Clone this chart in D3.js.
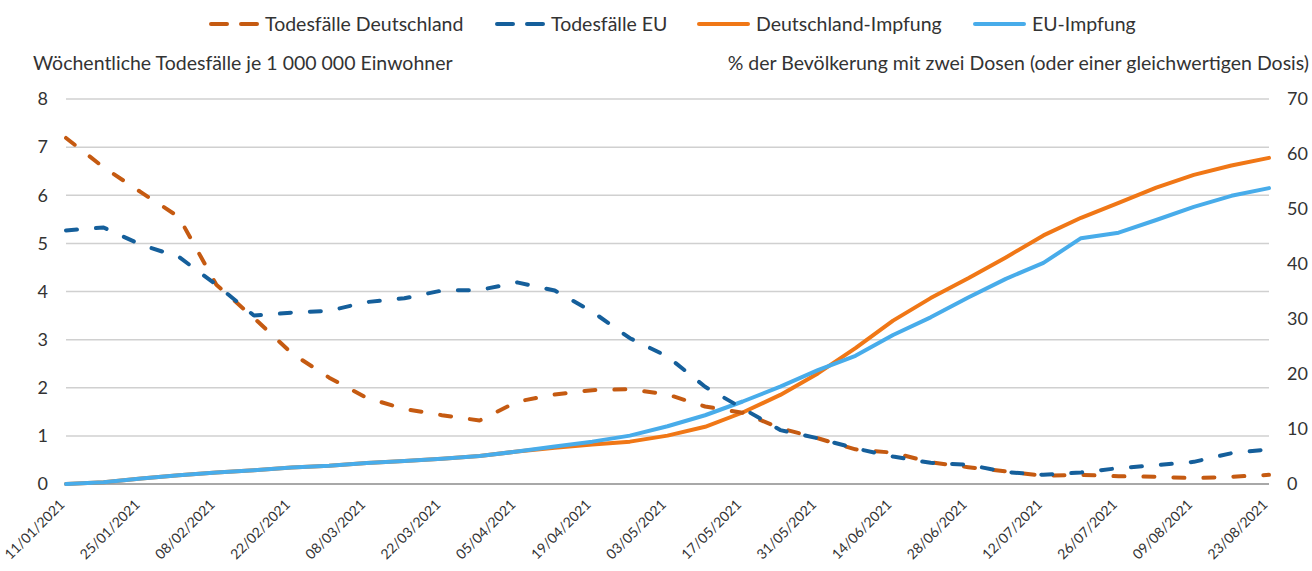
<!DOCTYPE html>
<meta charset="utf-8">
<script src="https://d3js.org/d3.v7.min.js"></script>
<style>
  body { margin: 0; background: #fff; }
  text { font-family: Lato, "Open Sans", sans-serif; fill: #333; }
</style>
<body>
<div id="my_dataviz"></div>
<script>
// weekly values, first week 11/01/2021
const startDate = "2021-01-11";
const weeks = 33;

const deathsDE = [7.19, 6.58, 6.06, 5.55, 4.14, 3.45, 2.72, 2.21, 1.79, 1.56, 1.43,
  1.32, 1.71, 1.86, 1.95, 1.97, 1.86, 1.61, 1.48, 1.16, 0.95, 0.72,
  0.65, 0.45, 0.35, 0.26, 0.17, 0.19, 0.16, 0.15, 0.12, 0.15, 0.19];
const deathsEU = [5.27, 5.33, 4.97, 4.72, 4.14, 3.5, 3.56, 3.6, 3.78, 3.86, 4.02,
  4.03, 4.19, 4.02, 3.58, 3.03, 2.65, 2.02, 1.57, 1.12, 0.95, 0.74,
  0.57, 0.44, 0.40, 0.25, 0.19, 0.24, 0.33, 0.39, 0.46, 0.64, 0.72];
const vaxDE = [0, 0.3, 1.0, 1.6, 2.1, 2.5, 3.0, 3.3, 3.8, 4.2, 4.6,
  5.1, 5.9, 6.6, 7.2, 7.7, 8.8, 10.4, 13.0, 16.2, 20.1, 24.7,
  29.7, 33.8, 37.4, 41.2, 45.2, 48.4, 51.1, 53.9, 56.2, 57.9, 59.3];
const vaxEU = [0, 0.3, 1.0, 1.6, 2.1, 2.5, 3.0, 3.3, 3.8, 4.2, 4.6,
  5.1, 5.9, 6.8, 7.7, 8.8, 10.5, 12.5, 15.0, 17.7, 20.7, 23.3,
  27.1, 30.3, 33.9, 37.3, 40.2, 44.7, 45.7, 48.0, 50.4, 52.4, 53.8];

const leftTicks = [0, 1, 2, 3, 4, 5, 6, 7, 8];
const rightTicks = [0, 10, 20, 30, 40, 50, 60, 70];

const leftTitle = "Wöchentliche Todesfälle je 1 000 000 Einwohner";
const rightTitle = "% der Bevölkerung mit zwei Dosen (oder einer gleichwertigen Dosis)";

const series = [
  {name: "Todesfälle Deutschland", values: deathsDE, axis: "left", color: "#C55A11", dashed: true},
  {name: "Todesfälle EU", values: deathsEU, axis: "left", color: "#155F9B", dashed: true},
  {name: "Deutschland-Impfung", values: vaxDE, axis: "right", color: "#F07716", dashed: false},
  {name: "EU-Impfung", values: vaxEU, axis: "right", color: "#48ACEA", dashed: false}
];

const width = 1312, height = 571;
const x0 = 66, x1 = 1269, yTop = 99, yBottom = 484;

const parse = d3.timeParse("%Y-%m-%d");
const dates = d3.range(weeks).map(i => d3.timeDay.offset(parse(startDate), 7 * i));

const svg = d3.select("#my_dataviz")
  .append("svg")
    .attr("width", width)
    .attr("height", height);

const x = d3.scaleTime()
  .domain([dates[0], dates[dates.length - 1]])
  .range([x0, x1]);
const yL = d3.scaleLinear().domain([0, 8]).range([yBottom, yTop]);
const yR = d3.scaleLinear().domain([0, 70]).range([yBottom, yTop]);

// grid
svg.append("g")
  .selectAll("line")
  .data(leftTicks.filter(d => d > 0))
  .join("line")
    .attr("x1", x0).attr("x2", x1)
    .attr("y1", d => yL(d)).attr("y2", d => yL(d))
    .style("stroke", "#d0d0d0")
    .style("stroke-width", 1.5);

svg.append("line")
  .attr("x1", x0).attr("x2", x1)
  .attr("y1", yL(0)).attr("y2", yL(0))
  .style("stroke", "#a8a8a8")
  .style("stroke-width", 2);

// left axis labels
svg.append("g")
  .selectAll("text")
  .data(leftTicks)
  .join("text")
    .attr("x", 48)
    .attr("y", d => yL(d))
    .attr("dy", "0.35em")
    .attr("text-anchor", "end")
    .style("font-size", "18px")
    .text(d => d);

// right axis labels
svg.append("g")
  .selectAll("text")
  .data(rightTicks)
  .join("text")
    .attr("x", 1287)
    .attr("y", d => yR(d))
    .attr("dy", "0.35em")
    .attr("text-anchor", "start")
    .style("font-size", "18px")
    .text(d => d);

// x labels, every two weeks
const fmt = d3.timeFormat("%d/%m/%Y");
const xTicks = dates.filter((d, i) => i % 2 === 0);
svg.append("g")
  .selectAll("text")
  .data(xTicks)
  .join("text")
    .attr("transform", d => `translate(${x(d) - 4}, ${yBottom + 18}) rotate(-45)`)
    .attr("text-anchor", "end")
    .attr("dy", "0.35em")
    .style("font-size", "14px")
    .text(d => fmt(d));

// axis titles
svg.append("text")
  .attr("x", 33).attr("y", 70)
  .style("font-size", "19.5px")
  .text(leftTitle);
svg.append("text")
  .attr("x", 1309).attr("y", 70)
  .attr("text-anchor", "end")
  .style("font-size", "19.5px")
  .text(rightTitle);

// lines
const drawOrder = [2, 3, 0, 1];
drawOrder.forEach(k => {
  const s = series[k];
  const ys = s.axis === "left" ? yL : yR;
  const line = d3.line()
    .x((d, i) => x(dates[i]))
    .y(d => ys(d));
  svg.append("path")
    .datum(s.values)
    .attr("d", line)
    .style("fill", "none")
    .style("stroke", s.color)
    .style("stroke-width", 4)
    .style("stroke-linejoin", "round")
    .style("stroke-linecap", "round")
    .style("stroke-dasharray", s.dashed ? "11,19" : null);
});

// legend
const legendX = [211, 497, 699, 975];
const legend = svg.append("g")
  .selectAll("g")
  .data(series)
  .join("g")
    .attr("transform", (d, i) => `translate(${legendX[i]}, 24)`);
legend.append("line")
  .attr("x1", 0).attr("x2", 49)
  .attr("y1", 0).attr("y2", 0)
  .style("stroke", d => d.color)
  .style("stroke-width", 4)
  .style("stroke-linecap", "round")
  .style("stroke-dasharray", d => d.dashed ? "16,14" : null);
legend.append("text")
  .attr("x", d => d.dashed ? 54 : 57)
  .attr("y", 0)
  .attr("dy", "0.35em")
  .style("font-size", "19.5px")
  .text(d => d.name);
</script>
</body>
